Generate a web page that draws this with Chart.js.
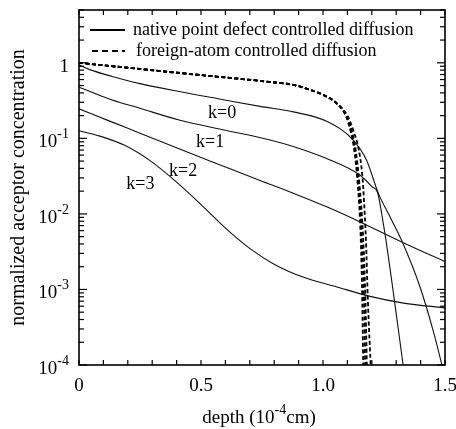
<!DOCTYPE html>
<html><head><meta charset="utf-8">
<script src="https://cdn.jsdelivr.net/npm/chart.js@4"></script>
<style>html,body{margin:0;padding:0;background:#fff}#wrap{width:456px;height:429px;position:relative}</style>
</head><body><div id="wrap"><canvas id="c"></canvas></div>
<script>
// ---- data (depth in 1e-4 cm, normalized acceptor concentration) ----
const depthK0 = [0, 0.05, 0.136, 0.25, 0.41, 0.58, 0.742, 0.878, 1.015, 1.124, 1.179, 1.227, 1.275, 1.323, 1.398, 1.452, 1.495];
const concK0  = [0.94, 0.80, 0.66, 0.53, 0.416, 0.33, 0.265, 0.224, 0.168, 0.095, 0.051, 0.0187, 0.0091, 0.0044, 0.00107, 0.00028, 0.00008];

const depthK1 = [0, 0.05, 0.136, 0.25, 0.41, 0.6, 0.779, 0.878, 1.015, 1.152, 1.2, 1.225, 1.247, 1.258, 1.335];
const concK1  = [0.475, 0.41, 0.322, 0.25, 0.175, 0.128, 0.096, 0.078, 0.054, 0.0325, 0.023, 0.0185, 0.0075, 0.0045, 0.00007];

const depthK2 = [0, 0.136, 0.25, 0.41, 0.6, 0.742, 0.878, 1.015, 1.152, 1.329, 1.506];
const concK2  = [0.246, 0.164, 0.117, 0.0726, 0.0418, 0.0277, 0.0188, 0.0124, 0.00783, 0.00416, 0.00229];

const depthK3 = [0, 0.086, 0.189, 0.291, 0.393, 0.496, 0.598, 0.701, 0.803, 0.918, 1.057, 1.193, 1.33, 1.5];
const concK3  = [0.126, 0.107, 0.0803, 0.0508, 0.0276, 0.0137, 0.00658, 0.00347, 0.00213, 0.00146, 0.00108, 0.00081, 0.00066, 0.00057];

const depthFA0 = [0, 0.2, 0.4, 0.6, 0.779, 0.878, 0.947, 1.001, 1.056, 1.097, 1.118, 1.131, 1.145, 1.159, 1.168, 1.173];
const concFA0  = [1.0, 0.86, 0.74, 0.64, 0.56, 0.51, 0.438, 0.376, 0.291, 0.193, 0.117, 0.07, 0.0254, 0.0045, 0.0007, 0.00009];
const depthFA1 = [0, 0.2, 0.4, 0.6, 0.779, 0.878, 0.947, 1.001, 1.056, 1.095, 1.115, 1.128, 1.142, 1.155, 1.161, 1.165];
const concFA1  = [1.0, 0.86, 0.74, 0.64, 0.56, 0.51, 0.438, 0.376, 0.291, 0.193, 0.117, 0.07, 0.0254, 0.0045, 0.0007, 0.00009];
const depthFA2 = [0, 0.2, 0.4, 0.6, 0.779, 0.878, 0.947, 1.001, 1.056, 1.098, 1.12, 1.134, 1.149, 1.165, 1.174, 1.18];
const concFA2  = [1.0, 0.86, 0.74, 0.64, 0.56, 0.51, 0.438, 0.376, 0.291, 0.193, 0.117, 0.07, 0.0254, 0.0045, 0.0007, 0.00009];
const depthFA3 = [0, 0.2, 0.4, 0.6, 0.779, 0.878, 0.947, 1.001, 1.056, 1.1, 1.128, 1.147, 1.162, 1.168, 1.176, 1.184, 1.196];
const concFA3  = [1.0, 0.86, 0.74, 0.64, 0.56, 0.51, 0.438, 0.376, 0.291, 0.2, 0.117, 0.07, 0.03, 0.015, 0.0045, 0.0007, 0.00009];

const xTickValues = [0, 0.5, 1.0, 1.5];
const xTickLabels = ['0', '0.5', '1.0', '1.5'];
const yTickExponents = [-4, -3, -2, -1, 0];
const legendLabels = ['native point defect controlled diffusion', 'foreign-atom controlled diffusion'];
const curveLabels = ['k=0', 'k=1', 'k=2', 'k=3'];
const curveLabelDepth = [0.529, 0.48, 0.369, 0.194];
const curveLabelConc  = [0.213, 0.088, 0.0363, 0.0244];
const xTitle = ['depth (10', '-4', 'cm)'];
const yTitle = 'normalized acceptor concentration';

// ---- chart ----
const FONT = '"Liberation Serif", "Times New Roman", serif';
const pts = (xs, ys) => xs.map((d, i) => ({x: d, y: ys[i]}));
const solid = (xs, ys) => ({data: pts(xs, ys), borderColor: '#111', borderWidth: 1.1, fill: false});
const dashed = (xs, ys) => ({data: pts(xs, ys), borderColor: '#000', borderWidth: 1.8, borderDash: [4, 2.5], fill: false});

const decor = {
  id: 'decor',
  afterDraw(chart) {
    const {ctx, chartArea: a, scales: {x, y}} = chart;
    const L = (x1, y1, x2, y2) => { ctx.beginPath(); ctx.moveTo(x1, y1); ctx.lineTo(x2, y2); ctx.stroke(); };
    ctx.save();
    ctx.strokeStyle = '#000';
    ctx.fillStyle = '#000';
    // frame
    ctx.lineWidth = 1.6;
    ctx.strokeRect(a.left, a.top, a.right - a.left, a.bottom - a.top);
    // x ticks (every 0.1), inward on bottom and top
    ctx.lineWidth = 1.2;
    for (let i = 0; i <= 15; i++) {
      const px = x.getPixelForValue(i / 10);
      L(px, a.bottom, px, a.bottom - 5);
      L(px, a.top, px, a.top + 5);
    }
    // y ticks (log), inward on left and right
    for (let e = -4; e <= 0; e++) {
      for (let m = 1; m <= 9; m++) {
        const v = m * Math.pow(10, e);
        if (v > y.max * 1.0001) break;
        const py = y.getPixelForValue(v);
        const len = m === 1 ? 8 : 5;
        L(a.left, py, a.left + len, py);
        L(a.right, py, a.right - len, py);
      }
    }
    // x tick labels
    ctx.font = '19px ' + FONT;
    ctx.textAlign = 'center';
    ctx.textBaseline = 'alphabetic';
    xTickValues.forEach((v, i) => ctx.fillText(xTickLabels[i], x.getPixelForValue(v), a.bottom + 26));
    // y tick labels with superscripts
    ctx.textAlign = 'left';
    yTickExponents.forEach(e => {
      const py = y.getPixelForValue(Math.pow(10, e));
      const right = a.left - 10;
      const base = py + 9;
      if (e === 0) {
        ctx.font = '19px ' + FONT;
        const w = ctx.measureText('1').width;
        ctx.fillText('1', right - w, base);
      } else {
        ctx.font = '14px ' + FONT;
        const sup = String(e);
        const ws = ctx.measureText(sup).width;
        ctx.fillText(sup, right - ws, base - 9);
        ctx.font = '19px ' + FONT;
        const wb = ctx.measureText('10').width;
        ctx.fillText('10', right - ws - wb, base);
      }
    });
    // x title
    ctx.font = '19px ' + FONT;
    const w0 = ctx.measureText(xTitle[0]).width;
    const w2 = ctx.measureText(xTitle[2]).width;
    ctx.font = '14px ' + FONT;
    const w1 = ctx.measureText(xTitle[1]).width;
    const tot = w0 + w1 + w2;
    let sx = (a.left + a.right) / 2 - 3 - tot / 2;
    const tb = a.bottom + 58;
    ctx.font = '19px ' + FONT; ctx.fillText(xTitle[0], sx, tb); sx += w0;
    ctx.font = '14px ' + FONT; ctx.fillText(xTitle[1], sx, tb - 9); sx += w1;
    ctx.font = '19px ' + FONT; ctx.fillText(xTitle[2], sx, tb);
    // y title
    ctx.save();
    ctx.translate(19, (a.top + a.bottom) / 2);
    ctx.rotate(-Math.PI / 2);
    ctx.font = '20px ' + FONT;
    ctx.textAlign = 'center';
    ctx.textBaseline = 'middle';
    ctx.fillText(yTitle, 0, 0);
    ctx.restore();
    // curve labels
    ctx.font = '18px ' + FONT;
    ctx.textAlign = 'left';
    ctx.textBaseline = 'middle';
    curveLabels.forEach((t, i) => ctx.fillText(t, x.getPixelForValue(curveLabelDepth[i]), y.getPixelForValue(curveLabelConc[i])));
    // legend
    const lx = a.left + 11, ly1 = a.top + 20, ly2 = a.top + 41;
    ctx.lineWidth = 2;
    L(lx, ly1, lx + 35, ly1);
    ctx.setLineDash([6, 4]);
    L(lx + 2, ly2, lx + 35, ly2);
    ctx.setLineDash([]);
    ctx.font = '18px ' + FONT;
    ctx.fillText(legendLabels[0], lx + 43, ly1);
    ctx.fillText(legendLabels[1], lx + 46, ly2);
    ctx.restore();
  }
};

new Chart(document.getElementById('c'), {
  type: 'line',
  data: {
    datasets: [
      dashed(depthFA0, concFA0), dashed(depthFA1, concFA1), dashed(depthFA2, concFA2), dashed(depthFA3, concFA3),
      solid(depthK0, concK0), solid(depthK1, concK1), solid(depthK2, concK2), solid(depthK3, concK3)
    ]
  },
  options: {
    responsive: true,
    maintainAspectRatio: false,
    animation: false,
    layout: {padding: {left: 79, right: 11, top: 10, bottom: 64}},
    elements: {point: {radius: 0, hoverRadius: 0}, line: {cubicInterpolationMode: 'monotone'}},
    scales: {
      x: {type: 'linear', min: 0, max: 1.5, display: false},
      y: {type: 'logarithmic', min: 1e-4, max: 5, display: false}
    },
    plugins: {legend: {display: false}, tooltip: {enabled: false}}
  },
  plugins: [decor]
});
</script>
</body></html>
